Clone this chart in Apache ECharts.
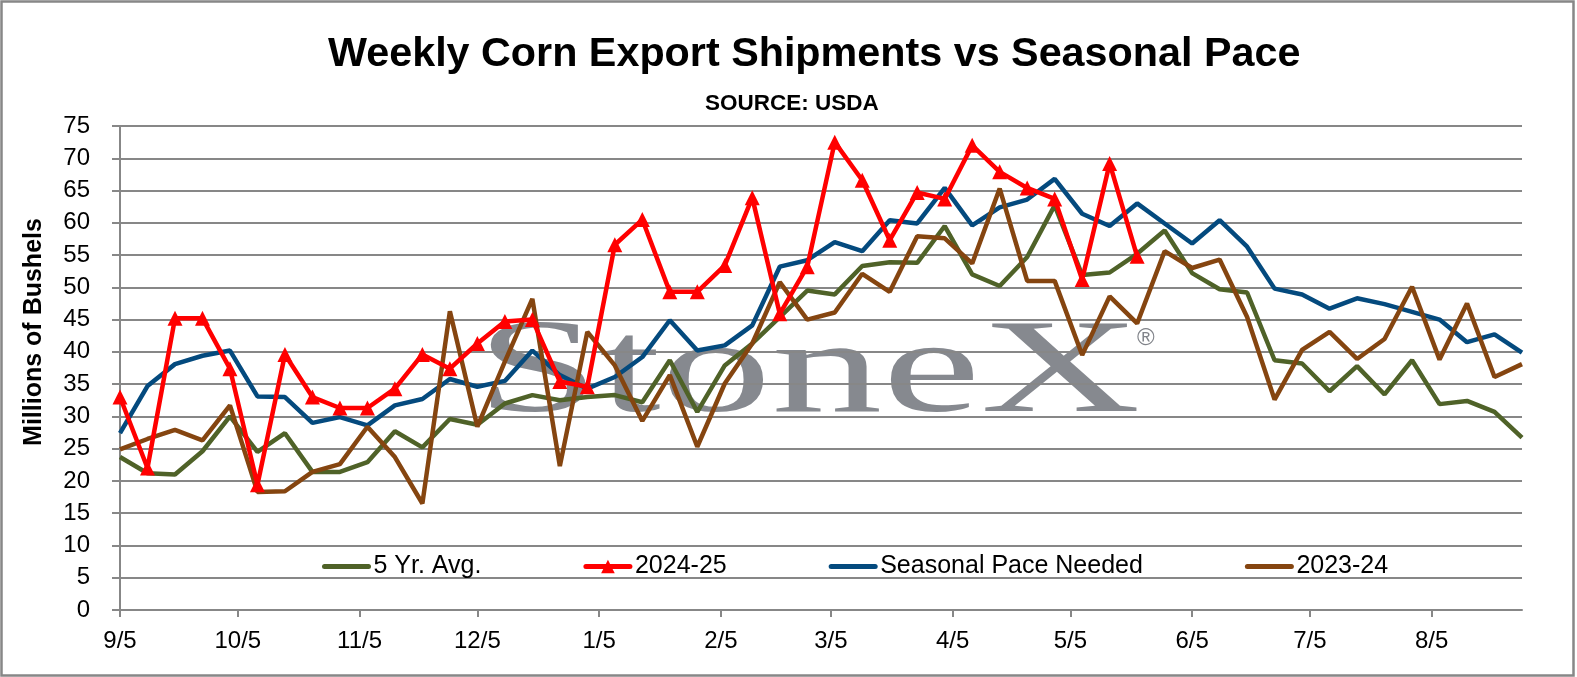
<!DOCTYPE html>
<html>
<head>
<meta charset="utf-8">
<script src="https://cdn.jsdelivr.net/npm/echarts@6/dist/echarts.min.js"></script>
<style>
html,body{margin:0;padding:0;background:#fff;}
#chart{width:1577px;height:677px;}
</style>
</head>
<body>
<div id="chart"></div>
<script>
// Tick labels (month marks) on the x axis
const tickLabels = ['9/5','10/5','11/5','12/5','1/5','2/5','3/5','4/5','5/5','6/5','7/5','8/5'];
const seriesNames = ['5 Yr. Avg.', '2024-25', 'Seasonal Pace Needed', '2023-24'];

// Weekly values, first week = 9/5 (Millions of Bushels)
const fiveYrAvg = [23.7,21.2,21.0,24.6,30.0,24.5,27.4,21.4,21.4,22.9,27.7,25.2,29.6,28.7,32.0,33.3,32.5,33.0,33.3,32.2,38.7,30.7,37.9,41.3,45.4,49.5,48.9,53.3,53.9,53.8,59.5,52.0,50.2,54.7,62.7,51.9,52.3,55.2,58.8,52.2,49.7,49.2,38.7,38.2,33.9,37.8,33.4,38.7,31.9,32.4,30.7,26.7];
const y2024_25 = [33.0,22.0,45.2,45.2,37.4,19.4,39.6,33.0,31.3,31.3,34.3,39.6,37.4,41.3,44.7,45.0,35.4,34.6,56.6,60.5,49.3,49.3,53.4,63.9,45.9,53.2,72.5,66.6,57.3,64.7,63.7,72.0,67.9,65.4,63.7,51.2,69.2,54.8];
const seasonalPace = [27.4,34.7,38.1,39.4,40.2,33.1,33.0,29.0,29.9,28.6,31.7,32.7,35.8,34.6,35.5,40.2,36.4,34.3,36.1,39.2,44.9,40.2,41.0,44.1,53.2,54.2,57.0,55.6,60.4,59.9,65.4,59.6,62.4,63.6,66.8,61.4,59.5,63.0,59.9,56.8,60.4,56.3,49.8,48.9,46.7,48.3,47.4,46.2,45.0,41.5,42.7,39.9];
const y2023_24 = [24.9,26.5,27.9,26.3,31.7,18.3,18.4,21.4,22.6,28.4,23.7,16.5,46.3,28.4,38.5,48.2,22.3,43.1,37.9,29.3,36.4,25.3,35.1,41.3,50.8,45.0,46.1,52.1,49.3,57.9,57.6,53.7,65.3,51.0,51.0,39.5,48.6,44.4,55.6,53.0,54.3,45.4,32.6,40.3,43.1,38.9,42.0,50.1,38.8,47.5,36.1,38.1];

// Day offsets from 9/5/2024 (UTC date arithmetic)
const DAY = 86400000;
const startMs = Date.UTC(2024, 8, 5);
function dayOffset(label) {
  const [m, d] = label.split('/').map(Number);
  const year = m >= 9 ? 2024 : 2025;
  return Math.round((Date.UTC(year, m - 1, d) - startMs) / DAY);
}
const tickDays = tickLabels.map(dayOffset);
const labelByDay = {};
tickLabels.forEach((l, i) => { labelByDay[tickDays[i]] = l; });
const lastDay = (fiveYrAvg.length - 1) * 7;
const toPoints = arr => arr.map((v, i) => [i * 7, v]);

const FONT = "'Liberation Sans', Arial, sans-serif";
const GRID_COLOR = '#878787';
const COLORS = {'5 Yr. Avg.': '#4F6228', '2024-25': '#FF0000', 'Seasonal Pace Needed': '#044A7E', '2023-24': '#854510'};
const LW = 4.5;

const chart = echarts.init(document.getElementById('chart'), null, {renderer: 'canvas'});
chart.setOption({
  backgroundColor: '#fff',
  animation: false,
  title: [
    {text: 'Weekly Corn Export Shipments vs Seasonal Pace', left: 323, top: 29,
     textStyle: {fontFamily: FONT, fontSize: 41.3, fontWeight: 'bold', color: '#000'}},
    {text: 'SOURCE: USDA', left: 700, top: 87,
     textStyle: {fontFamily: FONT, fontSize: 22.5, fontWeight: 'bold', color: '#000'}}
  ],
  graphic: [
    {type: 'rect', z: 100, silent: true,
     shape: {x: 1.5, y: 1.5, width: 1572, height: 674},
     style: {fill: 'none', stroke: GRID_COLOR, lineWidth: 2.5}},
    {type: 'text', z: -1, x: 476, y: 376, scaleX: 1.665, silent: true,
     style: {text: 'StoneX', x: 0, y: 0, font: "133px 'Liberation Serif', 'Times New Roman', serif",
             fill: '#808389', opacity: 0.95, textAlign: 'left', textVerticalAlign: 'middle'}},
    {type: 'text', z: -1, x: 1137, y: 338, silent: true,
     style: {text: '®', font: "24px 'Liberation Sans', Arial, sans-serif",
             fill: '#808389', textAlign: 'left', textVerticalAlign: 'middle'}}
  ],
  grid: {left: 120, right: 55, top: 126, bottom: 67, containLabel: false},
  legend: {
    data: seriesNames.map(n => n === '2024-25'
      ? {name: n}
      : {name: n, itemStyle: {opacity: 0}}),
    left: 317, top: 549,
    itemWidth: 44, itemHeight: 17, itemGap: 102,
    lineStyle: {width: 5, cap: 'round'},
    textStyle: {fontFamily: FONT, fontSize: 25, color: '#000'}
  },
  xAxis: {
    type: 'value', min: 0, max: lastDay,
    axisLine: {show: true, lineStyle: {color: GRID_COLOR, width: 2}},
    axisTick: {show: true, customValues: tickDays, length: 7, lineStyle: {color: GRID_COLOR, width: 2}},
    axisLabel: {customValues: tickDays, margin: 19, fontFamily: FONT, fontSize: 24, color: '#000',
                formatter: v => labelByDay[v] || ''},
    splitLine: {show: false}
  },
  yAxis: {
    type: 'value', min: 0, max: 75, interval: 5,
    name: 'Millions of Bushels', nameLocation: 'middle', nameGap: 73,
    nameTextStyle: {fontFamily: FONT, fontSize: 25, fontWeight: 'bold', color: '#000', padding: [0,0,0,72]},
    axisLine: {show: true, lineStyle: {color: GRID_COLOR, width: 2}},
    axisTick: {show: true, length: 8, lineStyle: {color: GRID_COLOR, width: 2}},
    axisLabel: {margin: 30, fontFamily: FONT, fontSize: 24, color: '#000'},
    splitLine: {show: true, lineStyle: {color: GRID_COLOR, width: 2}}
  },
  series: [
    {name: '5 Yr. Avg.', type: 'line', data: toPoints(fiveYrAvg), symbol: 'none', z: 2,
     lineStyle: {color: COLORS['5 Yr. Avg.'], width: LW}, itemStyle: {color: COLORS['5 Yr. Avg.']}},
    {name: 'Seasonal Pace Needed', type: 'line', data: toPoints(seasonalPace), symbol: 'none', z: 3,
     lineStyle: {color: COLORS['Seasonal Pace Needed'], width: LW}, itemStyle: {color: COLORS['Seasonal Pace Needed']}},
    {name: '2023-24', type: 'line', data: toPoints(y2023_24), symbol: 'none', z: 4,
     lineStyle: {color: COLORS['2023-24'], width: LW}, itemStyle: {color: COLORS['2023-24']}},
    {name: '2024-25', type: 'line', data: toPoints(y2024_25), symbol: 'triangle', symbolSize: 15, z: 5,
     showAllSymbol: true,
     lineStyle: {color: COLORS['2024-25'], width: LW}, itemStyle: {color: COLORS['2024-25']}}
  ]
});
</script>
</body>
</html>
